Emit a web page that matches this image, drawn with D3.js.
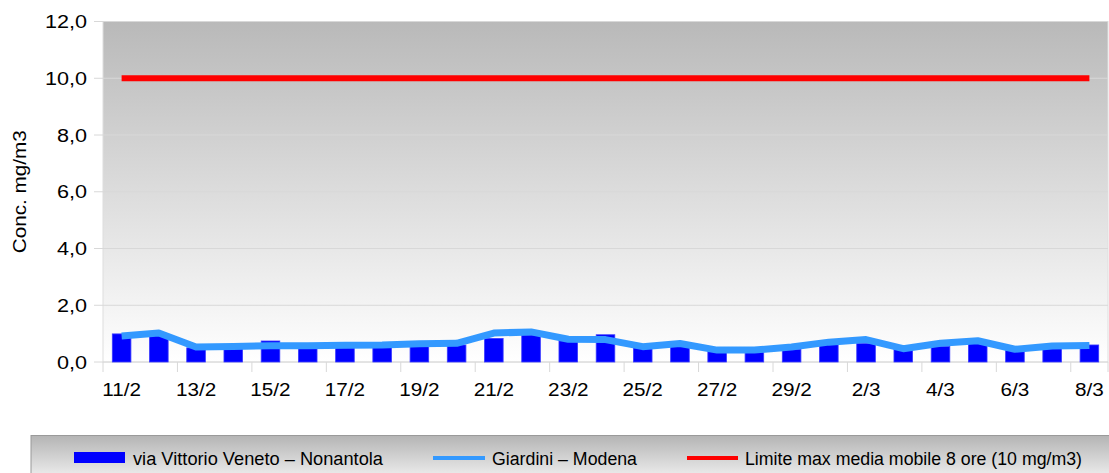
<!DOCTYPE html>
<html>
<head>
<meta charset="utf-8">
<script src="https://cdn.jsdelivr.net/npm/d3@7"></script>
<style>
  body { margin: 0; background: #fff; }
  svg { display: block; font-family: "Liberation Sans", Arial, sans-serif; }
</style>
</head>
<body>
<div id="chart"></div>
<script>
// giorni di misura (febbraio - marzo)
const days = ["11/2","12/2","13/2","14/2","15/2","16/2","17/2","18/2","19/2","20/2","21/2","22/2","23/2","24/2",
  "25/2","26/2","27/2","28/2","29/2","1/3","2/3","3/3","4/3","5/3","6/3","7/3","8/3"];
// via Vittorio Veneto - Nonantola (barre)
const nonantola = [0.99,0.95,0.50,0.50,0.74,0.50,0.50,0.55,0.60,0.60,0.83,0.95,0.75,0.96,
  0.50,0.60,0.40,0.40,0.45,0.62,0.65,0.45,0.55,0.65,0.40,0.50,0.60];
// Giardini - Modena (linea)
const modena = [0.92,1.02,0.53,0.55,0.57,0.57,0.59,0.60,0.64,0.66,1.02,1.06,0.80,0.79,
  0.54,0.65,0.42,0.42,0.53,0.70,0.79,0.47,0.66,0.75,0.45,0.56,0.58];
const limit = 10;
const yTicks = [0, 2, 4, 6, 8, 10, 12];
const legendLabels = ["via Vittorio Veneto \u2013 Nonantola", "Giardini \u2013 Modena", "Limite max media mobile 8 ore (10 mg/m3)"];

const W = 1109, H = 473;
const plot = {left: 103, right: 1108, top: 21.5, bottom: 362};

const svg = d3.select("#chart").append("svg")
  .attr("width", W).attr("height", H);

// il font originale e' un po' piu' largo: allargo il testo
const widen = (sel, k) => sel.each(function () {
  const len = this.getComputedTextLength();
  d3.select(this).attr("textLength", len * k).attr("lengthAdjust", "spacingAndGlyphs");
});

const defs = svg.append("defs");
const bg = defs.append("linearGradient").attr("id", "bg").attr("x1", 0).attr("y1", 0).attr("x2", 0).attr("y2", 1);
bg.append("stop").attr("offset", "0%").attr("stop-color", "#b9b9b9");
bg.append("stop").attr("offset", "100%").attr("stop-color", "#ffffff");
const lg = defs.append("linearGradient").attr("id", "lg").attr("x1", 0).attr("y1", 0).attr("x2", 0).attr("y2", 1);
lg.append("stop").attr("offset", "0%").attr("stop-color", "#b4b4b4");
lg.append("stop").attr("offset", "100%").attr("stop-color", "#f2f2f2");

const x = d3.scaleBand().domain(days).range([plot.left, plot.right]).padding(0);
const y = d3.scaleLinear().domain([0, 12]).range([plot.bottom, plot.top]);
const fmt = v => d3.format(".1f")(v).replace(".", ",");

// sfondo area del grafico
svg.append("rect")
  .attr("x", plot.left).attr("y", plot.top)
  .attr("width", plot.right - plot.left).attr("height", plot.bottom - plot.top)
  .attr("fill", "url(#bg)").attr("stroke", "#dedede");

// griglia orizzontale
svg.append("g").selectAll("line").data(yTicks).enter().append("line")
  .attr("x1", 94).attr("x2", plot.right)
  .attr("y1", d => y(d)).attr("y2", d => y(d))
  .attr("stroke", "#d8d8d8").attr("stroke-width", 1);

svg.append("g").selectAll("text").data(yTicks).enter().append("text")
  .attr("x", 87).attr("y", d => y(d) + 6.5)
  .attr("text-anchor", "end").attr("font-size", 18).attr("fill", "#000")
  .text(fmt)
  .call(widen, 1.2);

svg.append("text")
  .attr("transform", `translate(26, ${(plot.top + plot.bottom) / 2}) rotate(-90)`)
  .attr("text-anchor", "middle").attr("font-size", 18)
  .text("Conc. mg/m3")
  .call(widen, 1.15);

// asse x: tacche ogni due giorni
const tickPos = days.filter((d, i) => i % 2 === 0).map(d => x(d)).concat([plot.right]);
svg.append("g").selectAll("line").data(tickPos).enter().append("line")
  .attr("x1", d => d).attr("x2", d => d)
  .attr("y1", plot.bottom).attr("y2", plot.bottom + 10)
  .attr("stroke", "#d8d8d8");

svg.append("g").selectAll("text").data(days.filter((d, i) => i % 2 === 0)).enter().append("text")
  .attr("x", d => x(d) + x.bandwidth() / 2).attr("y", 396)
  .attr("text-anchor", "middle").attr("font-size", 18)
  .text(d => d)
  .call(widen, 1.15);

// barre Nonantola
const bw = x.bandwidth() * 0.5;
svg.append("g").selectAll("rect").data(nonantola).enter().append("rect")
  .attr("x", (d, i) => x(days[i]) + (x.bandwidth() - bw) / 2)
  .attr("y", d => y(d))
  .attr("width", bw)
  .attr("height", d => y(0) - y(d))
  .attr("fill", "#0000ff").attr("stroke", "#3a3aff").attr("stroke-width", 0.8);

const cx = i => x(days[i]) + x.bandwidth() / 2;

// linea Modena
svg.append("path")
  .datum(modena)
  .attr("d", d3.line().x((d, i) => cx(i)).y(d => y(d)))
  .attr("fill", "none").attr("stroke", "#3399ff").attr("stroke-width", 7)
  .attr("stroke-linejoin", "round");

// limite
svg.append("path")
  .datum(days.map(() => limit))
  .attr("d", d3.line().x((d, i) => cx(i)).y(d => y(d)))
  .attr("fill", "none").attr("stroke", "#ff0000").attr("stroke-width", 6);

// legenda
const leg = svg.append("g");
leg.append("rect")
  .attr("x", 31).attr("y", 435.5).attr("width", 1090).attr("height", 45)
  .attr("fill", "url(#lg)").attr("stroke", "#9a9a9a");

leg.append("rect").attr("x", 74).attr("y", 452).attr("width", 51).attr("height", 11)
  .attr("fill", "#0000ff");
leg.append("line").attr("x1", 433).attr("x2", 485).attr("y1", 458).attr("y2", 458)
  .attr("stroke", "#3399ff").attr("stroke-width", 4);
leg.append("line").attr("x1", 687).attr("x2", 738).attr("y1", 458).attr("y2", 458)
  .attr("stroke", "#ff0000").attr("stroke-width", 4);

const legText = [{x: 133, w: 250}, {x: 492, w: 145}, {x: 745, w: 337}];
leg.selectAll("text.l").data(legendLabels).enter().append("text")
  .attr("class", "l")
  .attr("x", (d, i) => legText[i].x).attr("y", 465)
  .attr("font-size", 18)
  .attr("textLength", (d, i) => legText[i].w)
  .attr("lengthAdjust", "spacingAndGlyphs")
  .text(d => d);
</script>
</body>
</html>
